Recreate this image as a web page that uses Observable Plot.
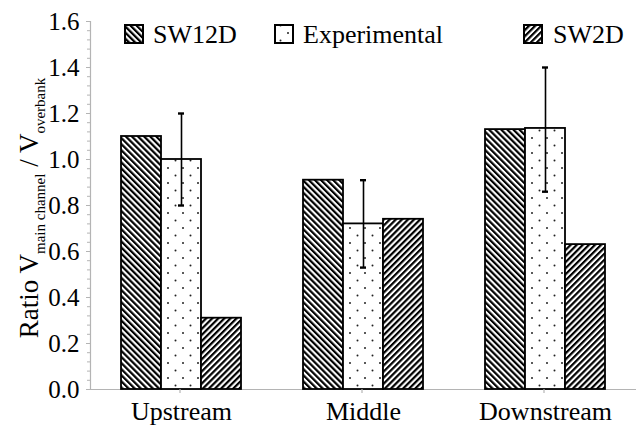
<!DOCTYPE html>
<html><head><meta charset="utf-8">
<script src="https://cdn.jsdelivr.net/npm/d3@7"></script>
<script src="https://cdn.jsdelivr.net/npm/@observablehq/plot@0.6"></script>
<style>
body{margin:0;background:#fff}
</style>
</head><body><div id="chart"></div>
<script>
// ---- data ----
const categories = ["Upstream", "Middle", "Downstream"];
const series = ["SW12D", "Experimental", "SW2D"];
const sw12d = [1.10, 0.91, 1.13];
const experimental = [1.00, 0.72, 1.135];
const sw2d = [0.31, 0.74, 0.63];
const errLow = [0.80, 0.53, 0.86];
const errHigh = [1.20, 0.91, 1.40];
const yTicks = [0.0, 0.2, 0.4, 0.6, 0.8, 1.0, 1.2, 1.4, 1.6];
const yMinorTicks = d3.range(0, 41).map(i => +(i * 0.04).toFixed(2));
const yLabelParts = ["Ratio V", "main channel", " / V", "overbank"];

const valuesBySeries = {SW12D: sw12d, Experimental: experimental, SW2D: sw2d};
const rows = categories.flatMap((c, i) => series.map(s => ({category: c, series: s, value: valuesBySeries[s][i]})));
const errRows = categories.map((c, i) => ({category: c, series: "Experimental", low: errLow[i], high: errHigh[i]}));

const patternFill = {SW12D: "url(#p-sw12d)", Experimental: "url(#p-exp)", SW2D: "url(#p-sw2d)"};
const axisGray = "#b4b4b4";
const FONT = "Liberation Serif";

const plot = Plot.plot({
  width: 644,
  height: 427,
  marginTop: 21,
  marginBottom: 38,
  marginLeft: 90,
  marginRight: 8,
  style: "background: #fff; color: #000; font-family: 'Liberation Serif', serif;",
  fx: {domain: categories, padding: 0, label: null},
  x: {domain: series, paddingInner: 0, paddingOuter: 0.72, axis: null},
  y: {domain: [0, 1.6], axis: null},
  marks: [
    Plot.ruleY([0], {stroke: axisGray, strokeWidth: 1.2}),
    Plot.frame({anchor: "left", facetAnchor: "left", stroke: axisGray, strokeWidth: 1.2}),
    Plot.axisY({ticks: yMinorTicks, tickSize: 3, tickFormat: () => "", stroke: axisGray, label: null}),
    Plot.axisY({ticks: yTicks, tickSize: 4, tickPadding: 7, tickFormat: d3.format(".1f"), fontSize: 25, fontFamily: FONT, stroke: axisGray, fill: "#000", label: null}),
    Plot.axisFx({anchor: "bottom", fontSize: 26, fontFamily: FONT, tickSize: 0, tickPadding: 12, label: null, fill: "#000"}),
    ...series.map(s => Plot.barY(rows.filter(d => d.series === s), {
      fx: "category", x: "series", y: "value", fill: patternFill[s], stroke: "#000", strokeWidth: 1.8
    })),
    Plot.ruleX(errRows, {fx: "category", x: "series", y1: "low", y2: "high", stroke: "#000", strokeWidth: 1.6}),
    Plot.tickY(errRows, {fx: "category", x: "series", y: "high", insetLeft: 17, insetRight: 17, stroke: "#000", strokeWidth: 2.4}),
    Plot.tickY(errRows, {fx: "category", x: "series", y: "low", insetLeft: 17, insetRight: 17, stroke: "#000", strokeWidth: 2.4})
  ]
});

// ---- patterns ----
const svg = d3.select(plot.tagName.toLowerCase() === "svg" ? plot : plot.querySelector("svg"));
svg.attr("font-family", FONT);
const defs = svg.insert("defs", ":first-child");
function stripes(id, angle) {
  const p = defs.append("pattern").attr("id", id).attr("patternUnits", "userSpaceOnUse")
    .attr("width", 4.3).attr("height", 4.3).attr("patternTransform", `rotate(${angle})`);
  p.append("rect").attr("width", 4.3).attr("height", 4.3).attr("fill", "#fff");
  p.append("rect").attr("width", 2.2).attr("height", 4.3).attr("fill", "#000");
}
stripes("p-sw12d", -45);
stripes("p-sw2d", 45);
const pd = defs.append("pattern").attr("id", "p-exp").attr("patternUnits", "userSpaceOnUse")
  .attr("width", 15).attr("height", 15);
pd.append("rect").attr("width", 15).attr("height", 15).attr("fill", "#fff");
pd.append("circle").attr("cx", 3).attr("cy", 3).attr("r", 1).attr("fill", "#222");
pd.append("circle").attr("cx", 10.5).attr("cy", 10.5).attr("r", 1).attr("fill", "#222");

// ---- category boundary ticks from fx scale ----
const fx = plot.scale("fx");
const y = plot.scale("y");
const y0 = y.apply(0);
const bounds = categories.map(c => fx.apply(c)).concat([fx.apply(categories[categories.length - 1]) + fx.bandwidth]);
const offsetX = 90;
bounds.forEach(b => {
  svg.append("line").attr("x1", offsetX + b).attr("x2", offsetX + b).attr("y1", y0).attr("y2", y0 + 4)
    .attr("stroke", axisGray).attr("stroke-width", 1.2);
});

// ---- legend ----
const legend = [
  {s: "SW12D", bx: 125, tx: 153},
  {s: "Experimental", bx: 275, tx: 303},
  {s: "SW2D", bx: 524, tx: 553}
];
legend.forEach(l => {
  svg.append("rect").attr("x", l.bx).attr("y", 25).attr("width", 18).attr("height", 18)
    .attr("fill", patternFill[l.s]).attr("stroke", "#000").attr("stroke-width", 2);
  svg.append("text").attr("x", l.tx).attr("y", 43).attr("font-size", 26).attr("fill", "#000")
    .attr("text-anchor", "start").attr("font-family", FONT).text(l.s);
});

// ---- y label with subscripts ----
const yl = svg.append("text").attr("transform", "translate(38,208) rotate(-90)")
  .attr("text-anchor", "middle").attr("fill", "#000").attr("font-family", FONT)
  .style("white-space", "pre");
yl.append("tspan").attr("font-size", 27).text(yLabelParts[0]);
yl.append("tspan").attr("font-size", 15).attr("dy", 7).text(yLabelParts[1]);
yl.append("tspan").attr("font-size", 27).attr("dy", -7).text(yLabelParts[2]);
yl.append("tspan").attr("font-size", 15).attr("dy", 7).text(yLabelParts[3]);

document.getElementById("chart").append(plot);
</script>
</body></html>
